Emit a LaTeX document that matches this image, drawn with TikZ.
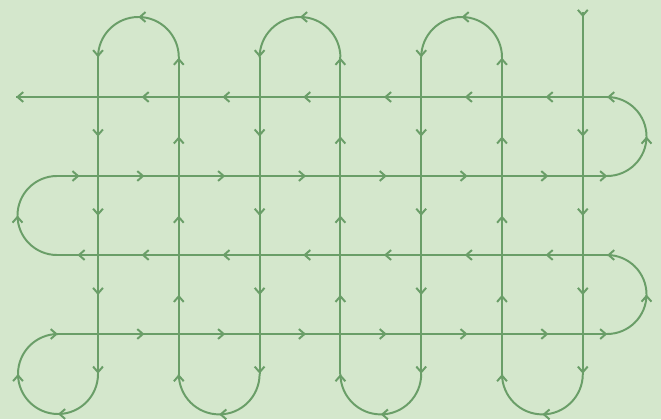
\documentclass[tikz,border=0pt]{standalone}
\usepackage{tikz}
\usetikzlibrary{arrows.meta, decorations.markings}

\definecolor{bggreen}{RGB}{212,231,204}
\definecolor{trackgreen}{RGB}{106,158,104}

\tikzset{
  >={Straight Barb[length=4pt, width=7pt]},
  track/.style={draw=trackgreen, line width=1.4pt},
  tipat/.style={postaction={decorate}, decoration={markings,
      mark=at position #1 with {\arrow{>}}}},
  colmarks/.style={postaction={decorate}, decoration={markings,
      mark=at position 1.98cm with {\arrow{>}},
      mark=at position 3.96cm with {\arrow{>}},
      mark=at position 5.94cm with {\arrow{>}},
      mark=at position 0.999 with {\arrow{>}}}},
  arcmarks/.style={postaction={decorate}, decoration={markings,
      mark=at position 0.5 with {\arrow{>}},
      mark=at position 0.999 with {\arrow{>}}}},
  sidemarks/.style={postaction={decorate}, decoration={markings,
      mark=at position 0.002 with {\arrow{>}},
      mark=at position 0.5 with {\arrow{>}},
      mark=at position 0.999 with {\arrow{>}}}},
  loopmarks/.style={postaction={decorate}, decoration={markings,
      mark=at position 0.3333 with {\arrow{>}},
      mark=at position 0.6667 with {\arrow{>}},
      mark=at position 0.999 with {\arrow{>}}}}
}

\begin{document}
\begin{tikzpicture}
\fill[bggreen] (0,0) rectangle (16.525,10.475);
\useasboundingbox (0,0) rectangle (16.525,10.475);

% columns, down on even, up on odd
\draw[track, tipat=0.125cm] (14.57,10.175) -- (14.57,9.04);
\foreach \c in {0,2,4,6}
  \draw[track, colmarks] ({2.45+2.02*\c},9.04) -- ({2.45+2.02*\c},1.125);
\foreach \c in {1,3,5}
  \draw[track, colmarks] ({2.45+2.02*\c},1.125) -- ({2.45+2.02*\c},9.04);

% turns at top and bottom
\foreach \c in {1,3,5}
  \draw[track, arcmarks] ({2.45+2.02*\c},9.04) arc[start angle=0, end angle=180, radius=1.01];
\foreach \c in {2,4,6}
  \draw[track, arcmarks] ({2.45+2.02*\c},1.125) arc[start angle=0, end angle=-180, radius=1.01];
\draw[track, loopmarks] (2.45,1.125) arc[start angle=0, end angle=-270, radius=1];

% rows
\foreach \c in {0,...,5} {
  \draw[track, tipat=1.16cm] ({2.45+2.02*\c},2.125) -- ({4.47+2.02*\c},2.125);
  \draw[track, tipat=0.93cm] ({4.47+2.02*\c},4.1) -- ({2.45+2.02*\c},4.1);
  \draw[track, tipat=1.16cm] ({2.45+2.02*\c},6.075) -- ({4.47+2.02*\c},6.075);
  \draw[track, tipat=0.93cm] ({4.47+2.02*\c},8.05) -- ({2.45+2.02*\c},8.05);
}

% row ends and side turns
\draw[track] (1.45,2.125) -- (2.45,2.125);
\draw[track] (14.57,2.125) -- (15.175,2.125);
\draw[track, sidemarks] (15.175,2.125) arc[start angle=-90, end angle=90, radius=0.9875];
\draw[track] (15.175,4.1) -- (14.57,4.1);
\draw[track, tipat=0.5] (2.45,4.1) -- (1.425,4.1);
\draw[track, tipat=0.5] (1.425,4.1) arc[start angle=-90, end angle=-270, radius=0.9875];
\draw[track, tipat=0.55] (1.425,6.075) -- (2.45,6.075);
\draw[track] (14.57,6.075) -- (15.175,6.075);
\draw[track, sidemarks] (15.175,6.075) arc[start angle=-90, end angle=90, radius=0.9875];
\draw[track] (15.175,8.05) -- (14.57,8.05);
\draw[track, tipat=0.999] (2.45,8.05) -- (0.4,8.05);
\end{tikzpicture}
\end{document}
